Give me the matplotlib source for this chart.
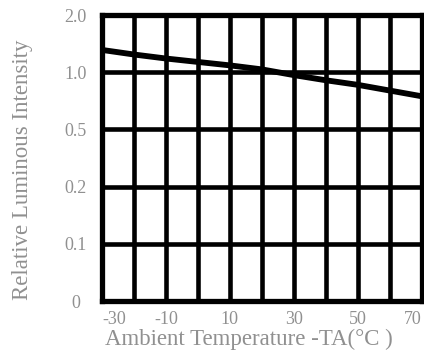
import matplotlib
matplotlib.use("Agg")
import matplotlib.pyplot as plt
import numpy as np

# ambient temperature (deg C) and relative luminous intensity
temps = [-30, -20, -10, 0, 10, 20, 30, 40, 50, 60, 70]
intensity = [1.39, 1.31, 1.24, 1.18, 1.12, 1.05, 0.975, 0.93, 0.89, 0.84, 0.79]

# the y axis is spaced evenly by tick, not by value
y_ticks = [0, 0.1, 0.2, 0.5, 1.0, 2.0]
y_labels = ['0', '0.1', '0.2', '0.5', '1.0', '2.0']
x_ticks = [-30, -10, 10, 30, 50, 70]
x_grid = list(range(-30, 71, 10))

tick_pos = np.arange(len(y_ticks), dtype=float)


def forward(v):
    return np.interp(v, y_ticks, tick_pos)


def inverse(p):
    return np.interp(p, tick_pos, y_ticks)


grey = '#909090'
plt.rcParams['font.family'] = ['Liberation Serif', 'DejaVu Serif']

fig = plt.figure(figsize=(4.24, 3.58), dpi=100)
ax = fig.add_axes([0.2406, 0.159, 0.754, 0.799])

ax.set_yscale('function', functions=(forward, inverse))
ax.set_xlim(-30, 70)
ax.set_ylim(0, 2.0)

ax.set_xticks(x_ticks)
ax.set_xticklabels([str(t) for t in x_ticks])
ax.set_xticks(x_grid, minor=True)
ax.set_yticks(y_ticks)
ax.set_yticklabels(y_labels)
ax.yaxis.set_minor_locator(matplotlib.ticker.NullLocator())

ax.grid(True, which='both', axis='x', color='black', linewidth=3.3)
ax.grid(True, which='major', axis='y', color='black', linewidth=3.3)
ax.tick_params(which='both', length=0, colors=grey, labelsize=13)
ax.tick_params(axis='y', pad=19)
ax.tick_params(axis='x', pad=7)
for lab in ax.get_yticklabels():
    lab.set_horizontalalignment('center')
xl = ax.get_xticklabels()
xl[0].set_horizontalalignment('left')
xl[0].set_x(-31)
xl[-1].set_horizontalalignment('right')
for s in ax.spines.values():
    s.set_linewidth(3.8)

ax.plot(temps, intensity, color='black', linewidth=4.2, solid_capstyle='butt')

ax.set_xlabel('Ambient Temperature -TA(\u00b0C )', color=grey, fontsize=16.5,
              labelpad=1, x=0.46)
ax.set_ylabel('Relative Luminous Intensity', color=grey, fontsize=16.5)
ax.yaxis.set_label_coords(-0.215, 0.46)

fig.savefig('out.png', dpi=100)
